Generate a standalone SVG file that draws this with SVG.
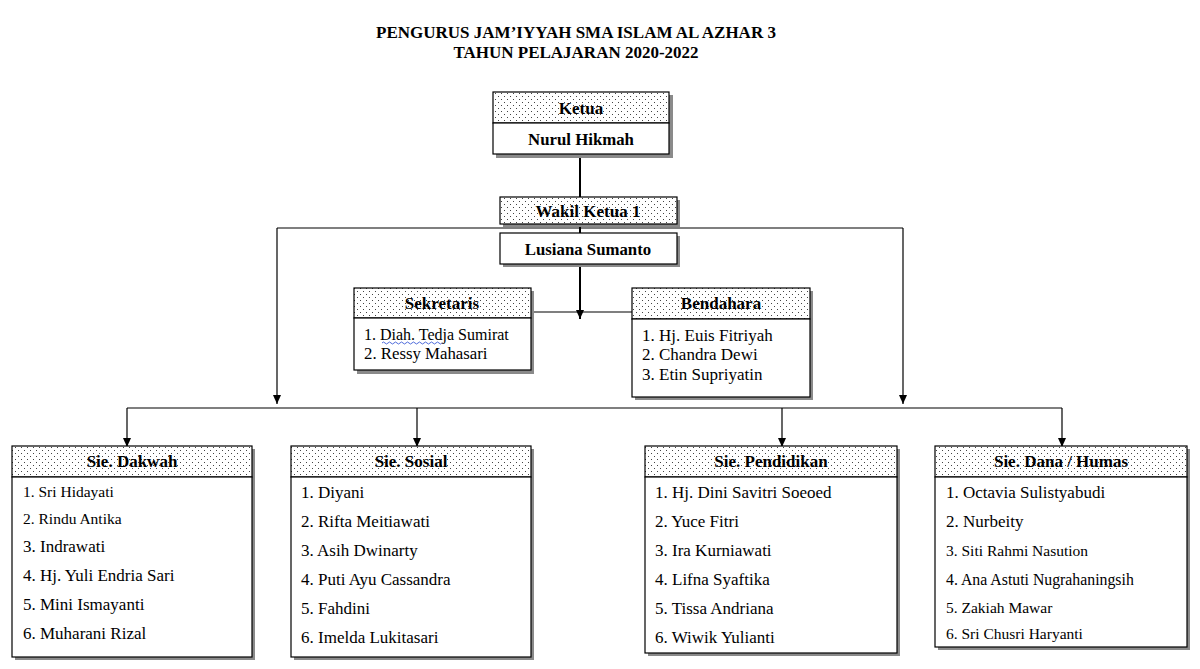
<svg xmlns="http://www.w3.org/2000/svg" width="1200" height="669" viewBox="0 0 1200 669">
<defs>
<pattern id="dots" width="6" height="6" patternUnits="userSpaceOnUse">
<rect width="6" height="6" fill="#fff"/>
<rect x="0" y="0" width="1" height="1" fill="#444"/>
<rect x="3" y="3" width="1" height="1" fill="#444"/>
</pattern>
<marker id="arrd" markerWidth="10" markerHeight="10" refX="5" refY="9" orient="0" markerUnits="userSpaceOnUse" viewBox="0 0 10 10">
<path d="M1,0 L9,0 L5,9 Z" fill="#000"/>
</marker>
</defs>
<style>
text{font-family:"Liberation Serif","Times New Roman",serif;fill:#000}
.t{font-weight:bold;font-size:17px;text-anchor:middle}
.h{font-weight:bold;font-size:17px;text-anchor:middle}
.n{font-weight:bold;font-size:16.8px;text-anchor:middle}
.i{font-size:17px}
.s{font-size:15.5px}
.sh{fill:#8a8a8a}
.hd{fill:url(#dots);stroke:#000;stroke-width:1.2}
.bd{fill:#fff;stroke:#000;stroke-width:1.2}
.ln{stroke:#000;stroke-width:1.2;fill:none}
.lt{stroke:#000;stroke-width:2;fill:none}
</style>
<rect width="1200" height="669" fill="#fff"/>
<g id="title">
<text class="t" x="576" y="38">PENGURUS JAM’IYYAH SMA ISLAM AL AZHAR 3</text>
<text class="t" x="576" y="58">TAHUN PELAJARAN 2020-2022</text>
</g>
<g id="connectors">
<line class="lt" x1="580" y1="155" x2="580" y2="198"/>
<polyline class="ln" points="277,228 903,228"/>
<line class="ln" x1="277" y1="228" x2="277" y2="404" marker-end="url(#arrd)"/>
<line class="ln" x1="903" y1="228" x2="903" y2="404" marker-end="url(#arrd)"/>
<line class="lt" x1="580" y1="224" x2="580" y2="234"/>
<line class="lt" x1="580" y1="264" x2="580" y2="319" marker-end="url(#arrd)"/>
<line class="ln" x1="531" y1="312" x2="632" y2="312"/>
<polyline class="ln" points="127,408 1062,408"/>
<line class="ln" x1="127" y1="408" x2="127" y2="447" marker-end="url(#arrd)"/>
<line class="ln" x1="417" y1="408" x2="417" y2="447" marker-end="url(#arrd)"/>
<line class="ln" x1="782" y1="408" x2="782" y2="447" marker-end="url(#arrd)"/>
<line class="ln" x1="1062" y1="408" x2="1062" y2="447" marker-end="url(#arrd)"/>
</g>
<g id="ketua">
<rect class="sh" x="496" y="95" width="177" height="63"/>
<rect class="hd" x="493" y="92" width="176" height="31"/>
<rect class="bd" x="493" y="123" width="176" height="31"/>
<text class="h" x="581" y="114">Ketua</text>
<text class="n" x="581" y="145">Nurul Hikmah</text>
</g>
<g id="wakil">
<rect class="sh" x="503" y="200" width="177" height="27"/>
<rect class="hd" x="500" y="197" width="177" height="27"/>
<rect class="sh" x="503" y="236" width="177" height="31"/>
<rect class="bd" x="500" y="233" width="177" height="31"/>
<text class="h" x="588" y="217">Wakil Ketua 1</text>
<text class="n" x="588" y="255">Lusiana Sumanto</text>
</g>
<g id="sekretaris">
<rect class="sh" x="357" y="291" width="177" height="83"/>
<rect class="hd" x="354" y="288" width="177" height="30"/>
<rect class="bd" x="354" y="318" width="177" height="52"/>
<text class="h" x="442" y="309">Sekretaris</text>
<text class="i" x="364" y="340" style="font-size:16px">1. Diah. Tedja Sumirat</text>
<path d="M382,343 q1.5,-2 3,0 t3,0 t3,0 t3,0 t3,0 t3,0 t3,0 t3,0 t3,0 t3,0 t3,0 t3,0 t3,0 t3,0 t3,0 t3,0 t3,0 t3,0 t3,0 t3,0" fill="none" stroke="#3b5bd6" stroke-width="0.9"/>
<text class="i" x="364" y="359" style="font-size:16.8px">2. Ressy Mahasari</text>
</g>
<g id="bendahara">
<rect class="sh" x="635" y="291" width="178" height="109"/>
<rect class="hd" x="632" y="288" width="178" height="31"/>
<rect class="bd" x="632" y="319" width="178" height="78"/>
<text class="h" x="721" y="309">Bendahara</text>
<text class="i" x="642" y="341">1. Hj. Euis Fitriyah</text>
<text class="i" x="642" y="360">2. Chandra Dewi</text>
<text class="i" x="642" y="380">3. Etin Supriyatin</text>
</g>
<g id="dakwah">
<rect class="sh" x="15" y="449" width="240" height="211"/>
<rect class="hd" x="12" y="446" width="240" height="31"/>
<rect class="bd" x="12" y="477" width="240" height="180"/>
<text class="h" x="132" y="467">Sie. Dakwah</text>
<text class="s" x="23" y="497">1. Sri Hidayati</text>
<text class="s" x="23" y="524">2. Rindu Antika</text>
<text class="i" x="23" y="552">3. Indrawati</text>
<text class="i" x="23" y="581">4. Hj. Yuli Endria Sari</text>
<text class="i" x="23" y="610">5. Mini Ismayanti</text>
<text class="i" x="23" y="639">6. Muharani Rizal</text>
</g>
<g id="sosial">
<rect class="sh" x="294" y="449" width="240" height="211"/>
<rect class="hd" x="291" y="446" width="240" height="31"/>
<rect class="bd" x="291" y="477" width="240" height="180"/>
<text class="h" x="411" y="467">Sie. Sosial</text>
<text class="i" x="301" y="498">1. Diyani</text>
<text class="i" x="301" y="527">2. Rifta Meitiawati</text>
<text class="i" x="301" y="556">3. Asih Dwinarty</text>
<text class="i" x="301" y="585">4. Puti Ayu Cassandra</text>
<text class="i" x="301" y="614">5. Fahdini</text>
<text class="i" x="301" y="643">6. Imelda Lukitasari</text>
</g>
<g id="pendidikan">
<rect class="sh" x="648" y="449" width="252" height="207"/>
<rect class="hd" x="645" y="446" width="252" height="31"/>
<rect class="bd" x="645" y="477" width="252" height="176"/>
<text class="h" x="771" y="467">Sie. Pendidikan</text>
<text class="i" x="655" y="498">1. Hj. Dini Savitri Soeoed</text>
<text class="i" x="655" y="527">2. Yuce Fitri</text>
<text class="i" x="655" y="556">3. Ira Kurniawati</text>
<text class="i" x="655" y="585">4. Lifna Syaftika</text>
<text class="i" x="655" y="614">5. Tissa Andriana</text>
<text class="i" x="655" y="643">6. Wiwik Yulianti</text>
</g>
<g id="dana">
<rect class="sh" x="938" y="449" width="252" height="201"/>
<rect class="hd" x="935" y="446" width="252" height="31"/>
<rect class="bd" x="935" y="477" width="252" height="170"/>
<text class="h" x="1061" y="467">Sie. Dana / Humas</text>
<text class="i" x="946" y="498">1. Octavia Sulistyabudi</text>
<text class="i" x="946" y="527">2. Nurbeity</text>
<text class="s" x="946" y="556">3. Siti Rahmi Nasution</text>
<text class="s" x="946" y="585" style="font-size:15.8px">4. Ana Astuti Nugrahaningsih</text>
<text class="s" x="946" y="613">5. Zakiah Mawar</text>
<text class="s" x="946" y="639">6. Sri Chusri Haryanti</text>
</g>
</svg>
